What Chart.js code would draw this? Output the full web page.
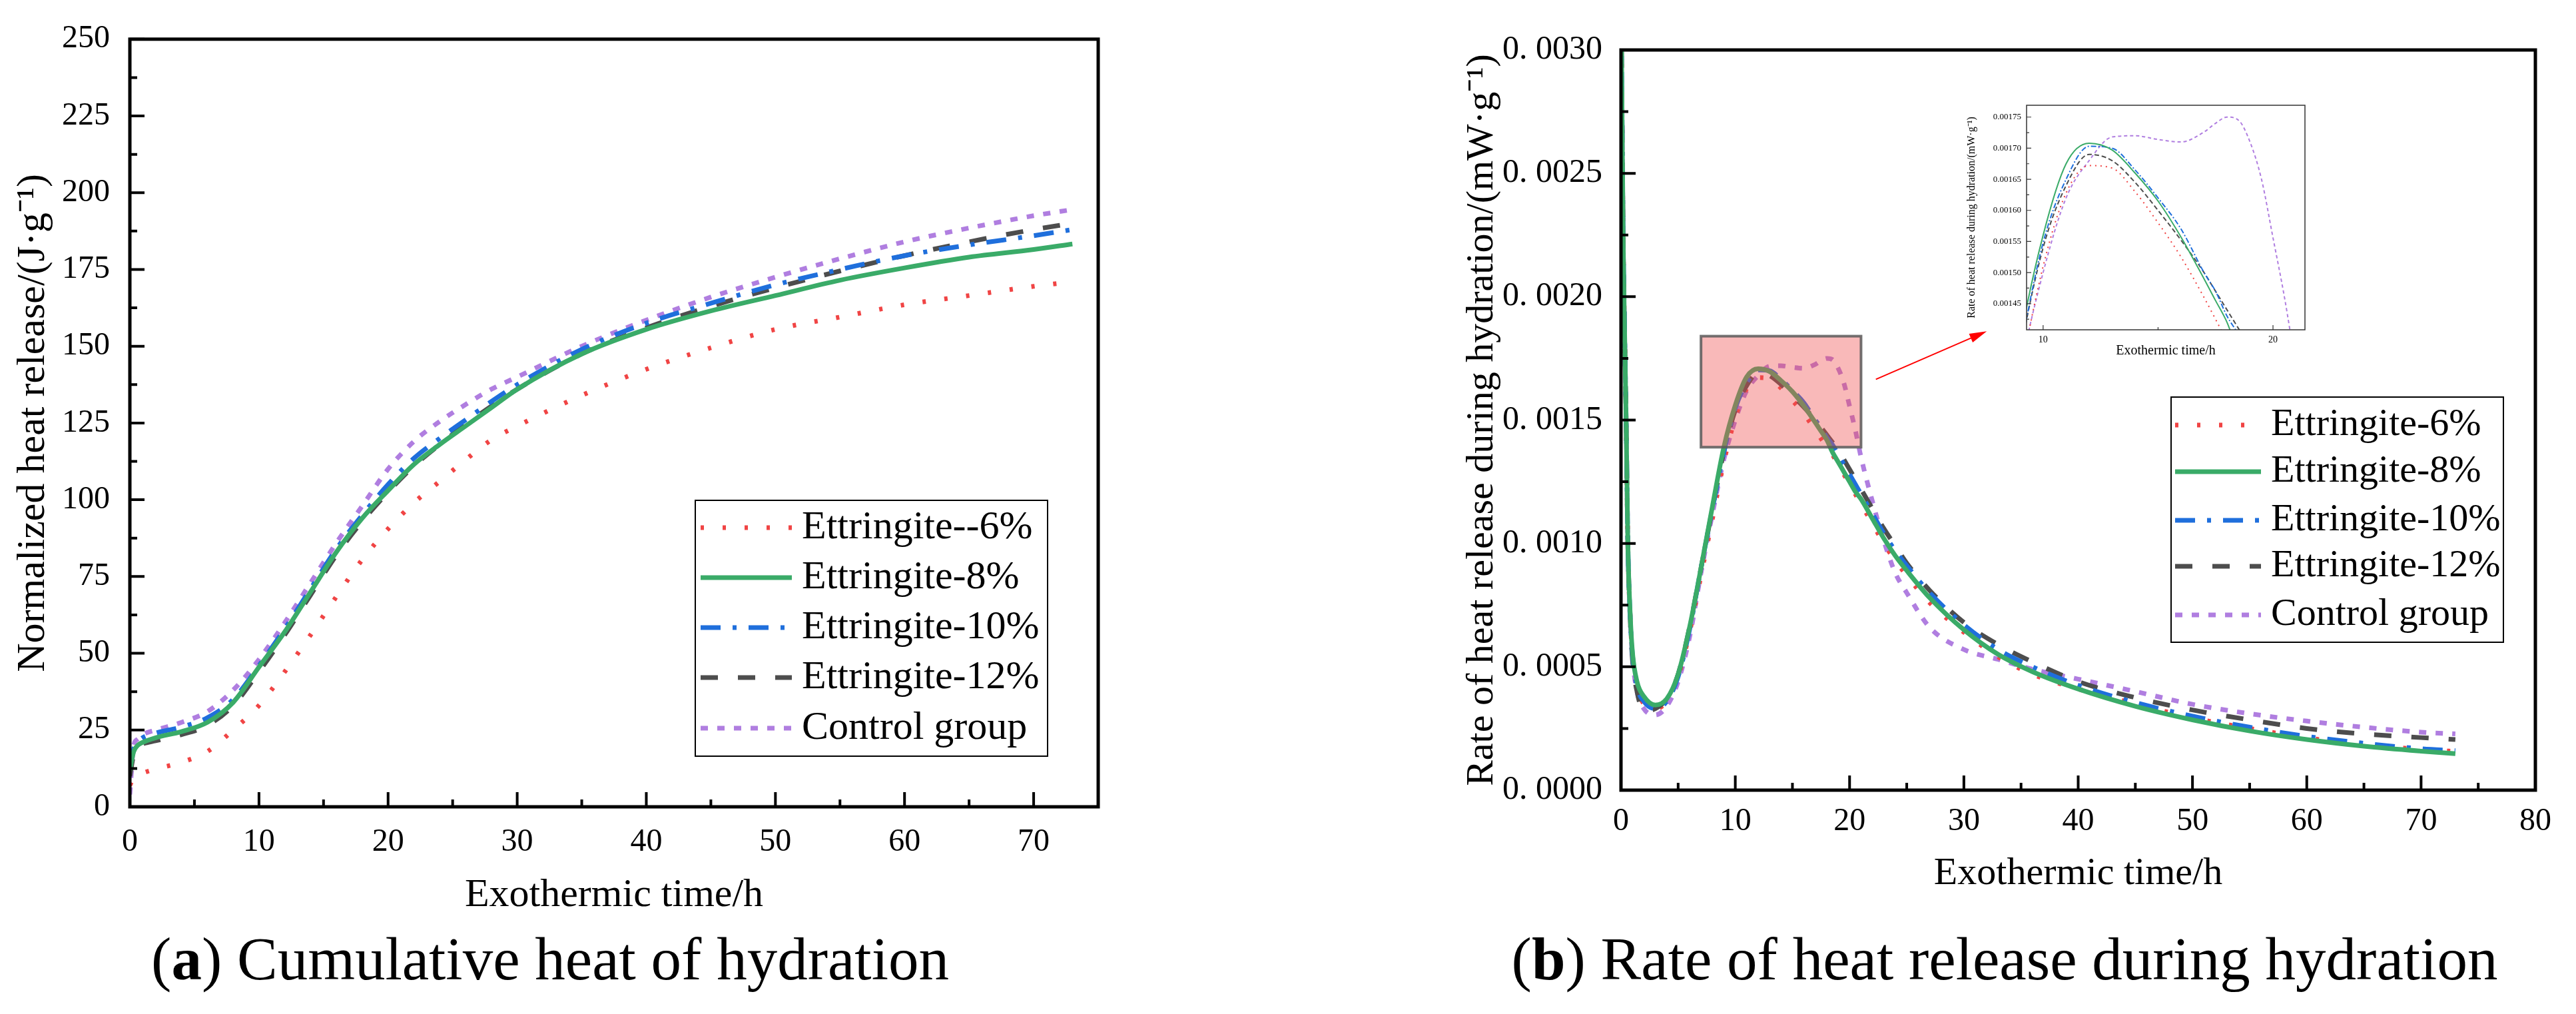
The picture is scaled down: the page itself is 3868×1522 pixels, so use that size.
<!DOCTYPE html>
<html>
<head>
<meta charset="utf-8">
<title>Heat of hydration</title>
<script src="https://cdn.jsdelivr.net/npm/chart.js@4.4.1/dist/chart.umd.min.js"></script>
<style>
  html, body { margin: 0; padding: 0; background: #fff; }
  body { position: relative; width: 3868px; height: 1522px; overflow: hidden; font-family: "Liberation Serif", serif; }
  canvas { position: absolute; }
  .caption { position: absolute; top: 1394px; width: 1600px; text-align: center; font-size: 91px; line-height: 91px; color: #000; white-space: nowrap; }
</style>
</head>
<body>
<canvas id="heatChart" width="1800" height="1420" style="left:0;top:0"></canvas>
<canvas id="rateChart" width="1934" height="1420" style="left:1934px;top:0"></canvas>
<canvas id="zoomChart" width="540" height="405" style="left:2940px;top:140px"></canvas>
<div class="caption" style="left:26px">(<b>a</b>) Cumulative heat of hydration</div>
<div class="caption" style="left:2210px">(<b>b</b>) Rate of heat release during hydration</div>

<script>
// (a) cumulative heat, J/g
const timeA = [0, 0.3, 0.6, 1, 2, 4, 6, 8, 10, 12, 14, 16, 18, 20, 22, 24, 26, 28, 30, 35, 40, 45, 50, 55, 60, 65, 70, 73];
const heat6 = [7, 9.5, 10.3, 11, 12.3, 14.5, 18, 25, 33, 44, 56, 68.5, 80.5, 90.5, 99, 106, 113, 119.5, 124, 134, 142.5, 149.5, 155.5, 159.5, 163.5, 166.5, 169.5, 171];
const heat8 = [12, 18, 20, 21, 22.5, 24.5, 27.5, 34, 45.5, 57, 70, 83, 94, 103, 111.5, 118, 124, 130, 136, 147.5, 155.5, 161.5, 166.5, 171.5, 175.5, 179, 181.5, 183.3];
const heat10 = [13, 19, 21, 22.5, 24, 26, 29, 35, 46, 58, 71, 84, 95, 105, 113.5, 120, 126, 132, 137.5, 149, 157.5, 164, 170, 175, 179.5, 183, 186, 188];
const heat12 = [10, 17, 19.5, 20.5, 21.5, 23.5, 26.5, 33, 44, 56, 69, 82, 93, 102.5, 111, 118, 124.5, 130.5, 136, 147.5, 156, 163, 169, 174.5, 179.5, 184, 188, 190];
const heatCtrl = [4, 20, 22, 23.5, 25, 27.5, 31, 38, 48, 60, 73, 86, 98, 110, 119, 125.5, 131, 136, 140, 150, 158.5, 166, 172.5, 178.5, 184, 188.5, 192.5, 194.5];

// (b) heat flow, mW/g
const timeB = [0, 0.1, 0.2, 0.3, 0.45, 0.6, 0.8, 1, 1.4, 2, 3, 4, 5, 6, 7, 8, 9, 10, 11, 12, 13, 14, 15, 16, 17, 17.5, 18, 18.5, 19, 19.5, 20, 20.5, 21, 22, 23, 24, 25, 27, 30, 33, 36, 40, 45, 50, 55, 60, 65, 70, 73];
const rate6 = [0.0033, 0.0027, 0.0022, 0.0019, 0.0015, 0.00100, 0.00071, 0.00055, 0.00042, 0.00035, 0.00033, 0.00036, 0.00046, 0.00064, 0.00087, 0.0011, 0.00133, 0.00151, 0.001628, 0.001672, 0.001668, 0.00163, 0.00158, 0.001525, 0.00146, 0.001425, 0.00139, 0.00136, 0.00132, 0.00128, 0.00124, 0.0012, 0.00116, 0.00108, 0.001, 0.00093, 0.00087, 0.00076, 0.00064, 0.00054, 0.00047, 0.00041, 0.00035, 0.000293, 0.00025, 0.000212, 0.000185, 0.000165, 0.000157];
const rate8 = [0.0033, 0.0027, 0.0022, 0.0019, 0.0015, 0.00100, 0.00072, 0.00056, 0.00044, 0.00038, 0.000345, 0.00037, 0.00047, 0.00066, 0.0009, 0.00115, 0.00139, 0.00156, 0.001675, 0.001708, 0.001697, 0.00166, 0.001615, 0.001557, 0.00149, 0.001455, 0.00142, 0.00137, 0.00133, 0.00129, 0.00125, 0.00121, 0.00118, 0.0011, 0.00102, 0.00095, 0.00089, 0.00078, 0.00065, 0.00055, 0.00048, 0.00041, 0.00034, 0.000285, 0.00024, 0.000205, 0.000178, 0.000158, 0.000148];
const rate10 = [0.0033, 0.0027, 0.0022, 0.0019, 0.0015, 0.00100, 0.00071, 0.00055, 0.00042, 0.00036, 0.00033, 0.00036, 0.00046, 0.00065, 0.0009, 0.00114, 0.00137, 0.001548, 0.00165, 0.001703, 0.0017, 0.001665, 0.00162, 0.00157, 0.0015, 0.00147, 0.00143, 0.0014, 0.00136, 0.00132, 0.00128, 0.00124, 0.0012, 0.00112, 0.00104, 0.00097, 0.00091, 0.0008, 0.00067, 0.00057, 0.0005, 0.000425, 0.000355, 0.0003, 0.000255, 0.000218, 0.00019, 0.000168, 0.00016];
const rate12 = [0.0033, 0.0027, 0.0022, 0.0019, 0.0015, 0.00100, 0.0007, 0.00053, 0.0004, 0.00032, 0.00033, 0.00037, 0.00047, 0.00066, 0.0009, 0.00114, 0.00137, 0.00154, 0.00164, 0.00169, 0.00168, 0.001645, 0.0016, 0.001552, 0.0015, 0.00147, 0.00144, 0.00141, 0.00138, 0.00134, 0.0013, 0.00126, 0.00122, 0.00114, 0.00106, 0.00099, 0.00092, 0.00081, 0.00068, 0.00059, 0.00052, 0.00044, 0.000375, 0.000325, 0.000285, 0.00025, 0.000228, 0.000213, 0.000205];
const rateCtrl = [0.0033, 0.0027, 0.0022, 0.0019, 0.0015, 0.00100, 0.0007, 0.00054, 0.0004, 0.00033, 0.000305, 0.00034, 0.00044, 0.00062, 0.00088, 0.00112, 0.00134, 0.0015, 0.00162, 0.00168, 0.001718, 0.00172, 0.001714, 0.00171, 0.001726, 0.00174, 0.00175, 0.001745, 0.00171, 0.00165, 0.001556, 0.00146, 0.00135, 0.00117, 0.00101, 0.00088, 0.0008, 0.00066, 0.00057, 0.00053, 0.00049, 0.00045, 0.0004, 0.000348, 0.00031, 0.00028, 0.000255, 0.000235, 0.000228];

const labelsA = ['Ettringite--6%', 'Ettringite-8%', 'Ettringite-10%', 'Ettringite-12%', 'Control group'];
const labelsB = ['Ettringite-6%', 'Ettringite-8%', 'Ettringite-10%', 'Ettringite-12%', 'Control group'];

// ticks
const xTicksA = [0, 10, 20, 30, 40, 50, 60, 70];
const xMinorA = [5, 15, 25, 35, 45, 55, 65];
const yTicksA = [0, 25, 50, 75, 100, 125, 150, 175, 200, 225, 250];
const yMinorA = [12.5, 37.5, 62.5, 87.5, 112.5, 137.5, 162.5, 187.5, 212.5, 237.5];
const xTicksB = [0, 10, 20, 30, 40, 50, 60, 70, 80];
const xMinorB = [5, 15, 25, 35, 45, 55, 65, 75];
const yTicksB = [0, 0.0005, 0.001, 0.0015, 0.002, 0.0025, 0.003];
const yMinorB = [0.00025, 0.00075, 0.00125, 0.00175, 0.00225, 0.00275];
const xTicksZoom = [10, 20];
const xMinorZoom = [15];
const yTicksZoom = [0.00145, 0.0015, 0.00155, 0.0016, 0.00165, 0.0017, 0.00175];
const yMinorZoom = [0.001425, 0.001475, 0.001525, 0.001575, 0.001625, 0.001675, 0.001725];

// zoomed region marked on (b) and the arrow to the inset
const zoomBoxX = [7, 21];
const zoomBoxY = [0.00139, 0.00184];
const arrowFrom = [22.3, 0.001665];
const arrowTo = [32, 0.00186];

const looks = [
  { color: '#f04444', dash: [5, 28], small: [2, 6], order: 3 },
  { color: '#3aab68', dash: [], small: [], order: 0 },
  { color: '#1f6fdc', dash: [30, 18, 6, 18], small: [8, 3, 2, 3], order: 1 },
  { color: '#4d4d4d', dash: [26, 30], small: [7, 4], order: 2 },
  { color: '#b07ee0', dash: [11, 14], small: [5, 4], order: 4 }
];

const SERIF = '"Liberation Serif", serif';

function series(label, times, vals, i, inset) {
  const lk = looks[i];
  return {
    label: label,
    data: times.map((t, k) => ({ x: t, y: vals[k] })),
    borderColor: lk.color,
    borderDash: inset ? lk.small : lk.dash,
    borderWidth: inset ? 2 : 7,
    borderCapStyle: 'butt',
    order: lk.order,
    pointRadius: 0,
    fill: false,
    cubicInterpolationMode: 'monotone'
  };
}

// ticks inside the frame, frame, legend, zoom box and arrow
const inkPlugin = {
  id: 'ink',
  afterDatasetsDraw(chart, args, o) {
    const ctx = chart.ctx, a = chart.chartArea;
    const xs = chart.scales.x, ys = chart.scales.y;
    ctx.save();
    if (o.box) {
      const x0 = xs.getPixelForValue(o.box.x[0]), x1 = xs.getPixelForValue(o.box.x[1]);
      const y0 = ys.getPixelForValue(o.box.y[1]), y1 = ys.getPixelForValue(o.box.y[0]);
      ctx.fillStyle = 'rgba(240,80,80,0.4)';
      ctx.fillRect(x0, y0, x1 - x0, y1 - y0);
      ctx.strokeStyle = 'rgba(90,90,90,0.85)';
      ctx.lineWidth = 4;
      ctx.strokeRect(x0, y0, x1 - x0, y1 - y0);
    }
    if (o.arrow) {
      const ax = xs.getPixelForValue(o.arrow.from[0]), ay = ys.getPixelForValue(o.arrow.from[1]);
      const bx = xs.getPixelForValue(o.arrow.to[0]), by = ys.getPixelForValue(o.arrow.to[1]);
      const ang = Math.atan2(by - ay, bx - ax);
      ctx.strokeStyle = '#ff0000';
      ctx.fillStyle = '#ff0000';
      ctx.lineWidth = 2;
      ctx.beginPath(); ctx.moveTo(ax, ay); ctx.lineTo(bx - 20 * Math.cos(ang), by - 20 * Math.sin(ang)); ctx.stroke();
      ctx.beginPath();
      ctx.moveTo(bx, by);
      ctx.lineTo(bx - 26 * Math.cos(ang) + 7 * Math.sin(ang), by - 26 * Math.sin(ang) - 7 * Math.cos(ang));
      ctx.lineTo(bx - 26 * Math.cos(ang) - 7 * Math.sin(ang), by - 26 * Math.sin(ang) + 7 * Math.cos(ang));
      ctx.closePath(); ctx.fill();
    }
    ctx.strokeStyle = o.frameColor;
    ctx.lineWidth = o.tickW;
    ctx.beginPath();
    const tick = (vals, len, horiz) => vals.forEach(v => {
      if (horiz) {
        const px = xs.getPixelForValue(v);
        ctx.moveTo(px, a.bottom); ctx.lineTo(px, a.bottom - len);
      } else {
        const py = ys.getPixelForValue(v);
        ctx.moveTo(a.left, py); ctx.lineTo(a.left + len, py);
      }
    });
    tick(o.xMajor, o.majorLen, true);
    tick(o.xMinor, o.minorLen, true);
    tick(o.yMajor, o.majorLen, false);
    tick(o.yMinor, o.minorLen, false);
    ctx.stroke();
    ctx.lineWidth = o.frameW;
    ctx.strokeRect(a.left, a.top, a.right - a.left, a.bottom - a.top);

    const lg = o.legend;
    if (lg) {
      ctx.fillStyle = '#fff';
      ctx.fillRect(lg.x, lg.y, lg.w, lg.h);
      ctx.strokeStyle = '#000';
      ctx.lineWidth = 2;
      ctx.strokeRect(lg.x, lg.y, lg.w, lg.h);
      ctx.font = lg.font + 'px ' + SERIF;
      ctx.textBaseline = 'middle';
      chart.data.datasets.forEach((ds, i) => {
        const y = lg.rows[i];
        ctx.setLineDash(ds.borderDash);
        ctx.strokeStyle = ds.borderColor;
        ctx.lineWidth = ds.borderWidth;
        ctx.beginPath(); ctx.moveTo(lg.sx0, y); ctx.lineTo(lg.sx1, y); ctx.stroke();
        ctx.setLineDash([]);
        ctx.fillStyle = '#000';
        ctx.fillText(ds.label, lg.tx, y);
      });
    }
    ctx.restore();
  }
};

function axisOpts(c) {
  return {
    type: 'linear',
    min: c.min, max: c.max,
    afterBuildTicks: s => { s.ticks = c.ticks.map(v => ({ value: v })); },
    afterFit: c.fit,
    grid: { display: false, drawTicks: false },
    border: { display: false },
    ticks: { font: { family: SERIF, size: c.tickSize }, padding: c.tickPad, autoSkip: false, maxRotation: 0, color: '#000', callback: c.fmt },
    title: { display: true, text: c.title, color: '#000', font: { family: SERIF, size: c.titleSize, lineHeight: 1 }, padding: c.titlePad }
  };
}

function makeChart(id, datasets, cfg) {
  return new Chart(document.getElementById(id), {
    type: 'line',
    data: { datasets: datasets },
    plugins: [inkPlugin],
    options: {
      responsive: false,
      animation: false,
      devicePixelRatio: 1,
      layout: { padding: cfg.pad },
      plugins: { legend: { display: false }, tooltip: { enabled: false }, ink: cfg.ink },
      scales: { x: axisOpts(cfg.x), y: axisOpts(cfg.y) }
    }
  });
}

function drawAll() {
  Chart.defaults.font.family = SERIF;
  Chart.defaults.color = '#000';

  const heatSets = [heat6, heat8, heat10, heat12, heatCtrl];
  const rateSets = [rate6, rate8, rate10, rate12, rateCtrl];

  makeChart('heatChart', heatSets.map((v, i) => series(labelsA[i], timeA, v, i, false)), {
    pad: { left: 0, top: 39, right: 151, bottom: 46 },
    x: { min: 0, max: 75, ticks: xTicksA, fit: s => { s.height = 163; }, tickSize: 48, tickPad: 25, fmt: v => v,
         title: 'Exothermic time/h', titleSize: 60, titlePad: { top: 0, bottom: 0 } },
    y: { min: 0, max: 250, ticks: yTicksA, fit: s => { s.width = 195; }, tickSize: 48, tickPad: 30, fmt: v => v,
         title: 'Normalized heat release/(J·g⁻¹)', titleSize: 60, titlePad: { top: 20, bottom: 0 } },
    ink: {
      xMajor: xTicksA, xMinor: xMinorA, yMajor: yTicksA, yMinor: yMinorA,
      majorLen: 22, minorLen: 11, tickW: 4, frameW: 5, frameColor: '#000',
      legend: { x: 1044, y: 751, w: 529, h: 384, rows: [792, 867, 942, 1017, 1093], sx0: 1052, sx1: 1189, tx: 1204, font: 60 }
    }
  });

  makeChart('rateChart', rateSets.map((v, i) => series(labelsB[i], timeB, v, i, false)), {
    pad: { left: 230, top: 75, right: 61, bottom: 79 },
    x: { min: 0, max: 80, ticks: xTicksB, fit: s => { s.height = 155; }, tickSize: 48, tickPad: 19, fmt: v => v,
         title: 'Exothermic time/h', titleSize: 58, titlePad: { top: 0, bottom: 0 } },
    y: { min: 0, max: 0.003, ticks: yTicksB, fit: s => { s.width = 270; }, tickSize: 50, tickPad: 28,
         fmt: v => v.toFixed(4).replace('.', '. '),
         title: 'Rate of heat release during hydration/(mW·g⁻¹)', titleSize: 58, titlePad: { top: 33, bottom: 0 } },
    ink: {
      xMajor: xTicksB, xMinor: xMinorB, yMajor: yTicksB, yMinor: yMinorB,
      majorLen: 22, minorLen: 11, tickW: 4, frameW: 5, frameColor: '#000',
      box: { x: zoomBoxX, y: zoomBoxY },
      arrow: { from: arrowFrom, to: arrowTo },
      legend: { x: 1326, y: 596, w: 499, h: 368, rows: [638, 708, 781, 850, 923], sx0: 1332, sx1: 1461, tx: 1476, font: 58 }
    }
  });

  makeChart('zoomChart', rateSets.map((v, i) => series(labelsB[i], timeB, v, i, true)), {
    pad: { left: 0, top: 18, right: 19, bottom: 8 },
    x: { min: 9.28, max: 21.39, ticks: xTicksZoom, fit: s => { s.height = 42; }, tickSize: 14, tickPad: 7, fmt: v => v,
         title: 'Exothermic time/h', titleSize: 20, titlePad: { top: 0, bottom: 0 } },
    y: { min: 0.001408, max: 0.001769, ticks: yTicksZoom, fit: s => { s.width = 103; }, tickSize: 13, tickPad: 8,
         fmt: v => v.toFixed(5),
         title: 'Rate of heat release during hydration/(mW·g⁻¹)', titleSize: 16, titlePad: { top: 13, bottom: 0 } },
    ink: {
      xMajor: xTicksZoom, xMinor: xMinorZoom, yMajor: yTicksZoom, yMinor: yMinorZoom,
      majorLen: 7, minorLen: 4, tickW: 1.2, frameW: 1.5, frameColor: '#333'
    }
  });
}

// wait for the serif face so canvas text does not fall back
Promise.all([
  document.fonts.load('48px "Liberation Serif"'),
  document.fonts.load('bold 48px "Liberation Serif"')
]).then(drawAll, drawAll);
</script>
</body>
</html>
